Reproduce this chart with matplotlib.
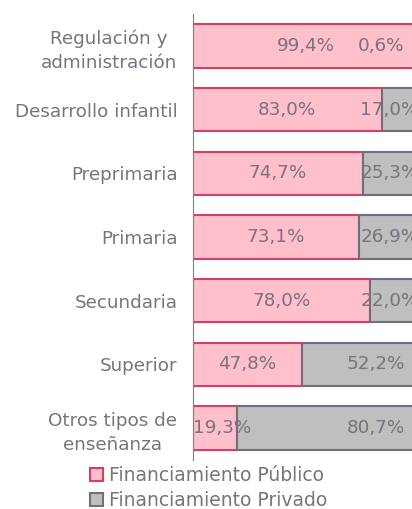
import numpy as np
import matplotlib
matplotlib.use("Agg")
import matplotlib.pyplot as plt
from matplotlib.patches import Patch

# Share of education spending by source of funding
categories = ["Regulación y\nadministración", "Desarrollo infantil", "Preprimaria",
              "Primaria", "Secundaria", "Superior", "Otros tipos de\nenseñanza"]
publico = [99.4, 83.0, 74.7, 73.1, 78.0, 47.8, 19.3]
privado = [0.6, 17.0, 25.3, 26.9, 22.0, 52.2, 80.7]
series_names = ["Financiamiento Público", "Financiamiento Privado"]

pink, pink_edge = "#FFC0CB", "#D93D63"
grey, grey_edge = "#BFBFBF", "#6F6E7C"
txt = "#77737F"

plt.rcParams["font.family"] = ["DejaVu Sans"]

fig = plt.figure(figsize=(4.12, 5.09), dpi=100)
ax = fig.add_axes([0.4677, 0.0963, 0.5323, 0.8762])

y = np.arange(len(categories))
ax.barh(y, publico, height=0.68, color=pink, edgecolor=pink_edge, linewidth=1.5)
ax.barh(y, privado, left=publico, height=0.68, color=grey, edgecolor=grey_edge, linewidth=1.5)

# value labels (Excel pushes them inside the visible area)
for i in range(len(categories)):
    xp = max(publico[i] / 2, 13.0)
    ax.text(xp, y[i], f"{publico[i]:.1f}%".replace(".", ","), ha="center", va="center",
            color=txt, fontsize=13.2)
    xq = float(np.clip(publico[i] + privado[i] / 2, 80.3, 86.5))
    if privado[i] < 5:
        xq = 82.5
    ax.text(xq, y[i], f"{privado[i]:.1f}%".replace(".", ","), ha="center", va="center",
            color=txt, fontsize=13.2, clip_on=False)

ax.set_xlim(0, 96.3)
ax.set_ylim(len(categories) - 0.5, -0.5)
ax.set_yticks(y)
ax.set_yticklabels(categories, fontsize=13.2, color=txt, multialignment="center",
                   linespacing=1.45)
ax.tick_params(axis="y", length=0, pad=11)
ax.set_xticks([])
for s in ["top", "right", "bottom"]:
    ax.spines[s].set_visible(False)
ax.spines["left"].set_color("#7F7F7F")

handles = [Patch(facecolor=pink, edgecolor=pink_edge, linewidth=1.5),
           Patch(facecolor=grey, edgecolor=grey_edge, linewidth=1.5)]
leg = fig.legend(handles, series_names, loc="center left", bbox_to_anchor=(0.219, 0.041),
                 ncol=1, frameon=False, fontsize=13.5, handlelength=0.7, handleheight=0.7,
                 handletextpad=0.3, labelspacing=0.3, borderpad=0, borderaxespad=0)
for t in leg.get_texts():
    t.set_color(txt)

fig.savefig("out.png", dpi=100)
